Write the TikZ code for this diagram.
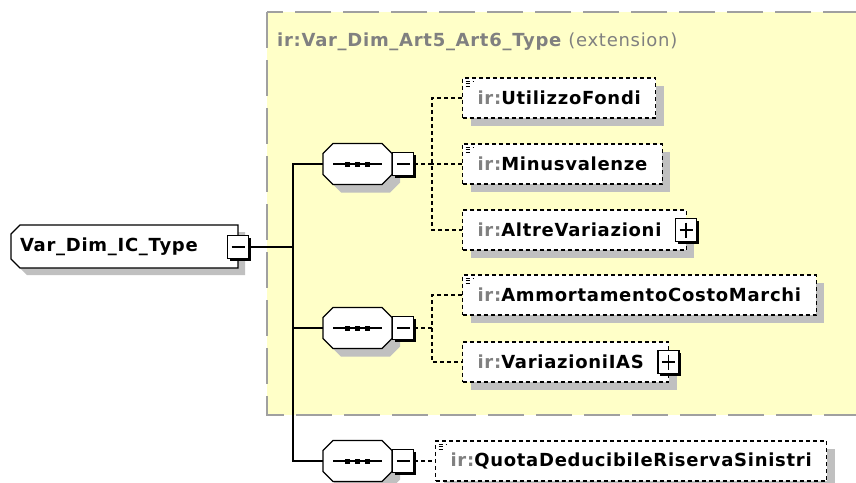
\documentclass[tikz,border=0pt]{standalone}
\usepackage{fontspec}
\setmainfont[LetterSpace=4]{DejaVu Sans}
\usetikzlibrary{shadows}
\definecolor{xsdyellow}{HTML}{FFFFC8}
\definecolor{xsdgray}{HTML}{808080}
\definecolor{xsdshadow}{HTML}{C0C0C0}
\definecolor{xsdframe}{HTML}{A0A0A0}
\newcommand{\ir}{\textcolor{xsdgray}{ir:}}

\begin{document}
\begin{tikzpicture}[x=1pt, y=-1pt, font=\fontsize{18}{21}\selectfont\bfseries,
  boxshadow/.style={drop shadow={shadow xshift=8pt, shadow yshift=-8pt, fill=xsdshadow, opacity=1}},
  elem/.style={draw, dash pattern=on 4pt off 3pt, line width=1.2pt, fill=white, boxshadow,
    anchor=west, minimum height=40pt, inner xsep=15pt, inner ysep=0pt},
  docicon/.style={path picture={
    \foreach \k/\w in {3/8,5.5/6,8/6}
      \draw[line width=0.9pt] ([xshift=3pt,yshift=-\k pt]path picture bounding box.north west) -- ++(\w,0);}},
  signbox/.style={draw, line width=1.2pt, fill=white, minimum width=21pt, minimum height=23pt, inner sep=0pt,
    drop shadow={shadow xshift=2pt, shadow yshift=-2pt, fill=black, opacity=1}},
  minus/.style={signbox, path picture={
    \draw[line width=1.2pt] ([xshift=4pt]path picture bounding box.west) -- ([xshift=-4pt]path picture bounding box.east);}},
  plus/.style={signbox, path picture={
    \draw[line width=1.2pt] ([xshift=4pt]path picture bounding box.west) -- ([xshift=-4pt]path picture bounding box.east);
    \draw[line width=1.2pt] ([yshift=-4pt]path picture bounding box.north) -- ([yshift=4pt]path picture bounding box.south);}},
  seq/.style={minimum width=69pt, minimum height=41pt, inner sep=0pt,
    path picture={
      \draw[line width=1.2pt] ([xshift=10pt]path picture bounding box.west) -- ([xshift=-10pt]path picture bounding box.east);
      \foreach \d in {-10,0,10}
        \fill ([xshift=\d pt]path picture bounding box.center) +(-2.5pt,-2.5pt) rectangle +(2.5pt,2.5pt);}},
  link/.style={dash pattern=on 4pt off 3pt, line width=1.2pt},
  wire/.style={line width=1.2pt}]
\useasboundingbox (0,0) rectangle (856,482);

\draw[xsdframe, fill=xsdyellow, line width=2pt, dash pattern=on 36pt off 12pt] (267,12) rectangle (880,415);
\node[anchor=west, text=xsdgray, inner sep=0pt] (title) at (277,42) {ir:Var\_Dim\_Art5\_Art6\_Type \mdseries(extension)};

\fill[xsdshadow] (18,232) -- (27,232) -- (245,232) -- (245,275) -- (27,275) -- (18,266) -- (18,241) -- cycle;
\filldraw[fill=white, line width=1.2pt] (20,225) -- (238,225) -- (238,268) -- (20,268) -- (11,259) -- (11,234) -- cycle;
\node[text width=209pt, align=left, inner xsep=9pt, inner ysep=0pt, minimum height=43pt] (root) at (124.5,247) {Var\_Dim\_IC\_Type};
\node[minus] (rootm) at (root.east) {};
\coordinate (tr) at (293,0);
\coordinate (c1) at (432,0);

\foreach \n/\m/\y in {s1/s1m/164, s2/s2m/328, s3/s3m/461} {
  \fill[xsdshadow] (365.5,\y+8) +(-24.5,-20.5) -- +(24.5,-20.5) -- +(34.5,-10.5) -- +(34.5,10.5)
    -- +(24.5,20.5) -- +(-24.5,20.5) -- +(-34.5,10.5) -- +(-34.5,-10.5) -- cycle;
  \filldraw[fill=white, line width=1.2pt] (357.5,\y) +(-24.5,-20.5) -- +(24.5,-20.5) -- +(34.5,-10.5) -- +(34.5,10.5)
    -- +(24.5,20.5) -- +(-24.5,20.5) -- +(-34.5,10.5) -- +(-34.5,-10.5) -- cycle;
  \node[seq] (\n) at (357.5,\y) {};
  \node[minus, anchor=west] (\m) at (\n.east) {};
}

\node[elem, docicon] (e1) at (462,98) {\ir UtilizzoFondi};
\node[elem, docicon] (e2) at (462,164) {\ir Minusvalenze};
\node[elem] (e3) at (462,230) {\ir AltreVariazioni\hspace*{10pt}};
\node[plus] (e3p) at ([xshift=-1pt]e3.east) {};
\node[elem, docicon] (e4) at (462,295) {\ir AmmortamentoCostoMarchi};
\node[elem] (e5) at (462,362) {\ir VariazioniIAS\hspace*{10pt}};
\node[plus] (e5p) at ([xshift=-1pt]e5.east) {};
\node[elem, docicon] (e6) at (435,461) {\ir QuotaDeducibileRiservaSinistri};

\draw[wire] (rootm.east) -- (rootm.east -| tr);
\draw[wire] (s1.west) -- (s1.west -| tr) -- (s3.west -| tr) -- (s3.west);
\draw[wire] (s2.west) -- (s2.west -| tr);

\draw[link] (s1m.east) -- (s1m.east -| c1);
\draw[link] (e1.west) -| (c1 |- e3.west) -- (e3.west);
\draw[link] (e2.west) -- (e2.west -| c1);
\draw[link] (s2m.east) -- (s2m.east -| c1);
\draw[link] (e4.west) -| (c1 |- e5.west) -- (e5.west);
\draw[link] (s3m.east) -- (e6.west);
\end{tikzpicture}
\end{document}
